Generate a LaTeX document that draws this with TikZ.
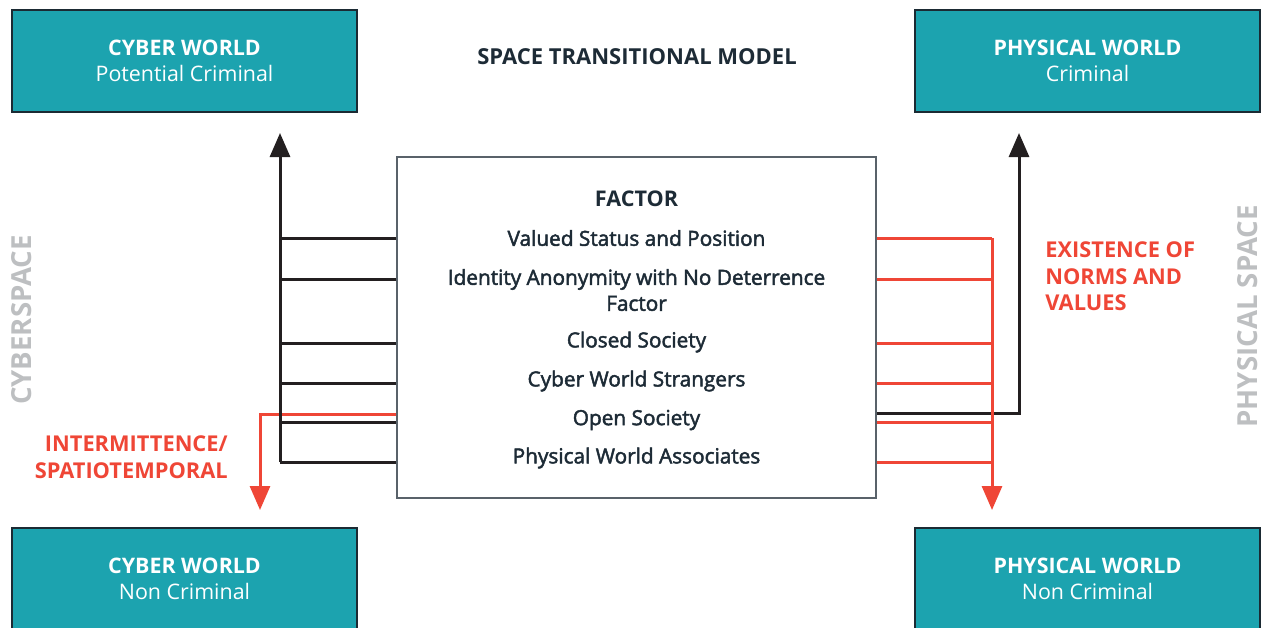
\documentclass[tikz,border=0pt]{standalone}
\usepackage{fontspec}
\setmainfont{Open Sans}
\newfontfamily\midfont[FakeBold=2.2]{Open Sans}
\usetikzlibrary{positioning,arrows.meta}

\definecolor{worldteal}{HTML}{1CA3AF}
\definecolor{worldedge}{HTML}{1B2A33}
\definecolor{inkdark}{HTML}{1D2B36}
\definecolor{boxgray}{HTML}{59626A}
\definecolor{linkblack}{HTML}{231F20}
\definecolor{linkred}{HTML}{EF4636}
\definecolor{spacegray}{HTML}{BDBFC1}

\begin{document}
\begin{tikzpicture}[x=0.5pt, y=-0.5pt,
    world/.style={draw=worldedge, line width=0.8pt, fill=worldteal, text=white,
        minimum width=172.5pt, minimum height=51pt, align=center,
        font=\fontsize{10.7}{13}\selectfont},
    factor/.style={text=inkdark, align=center, inner sep=0pt,
        font=\midfont\fontsize{10.4}{13}\selectfont},
    redlabel/.style={text=linkred, inner sep=0pt, font=\bfseries\fontsize{10.9}{13.3}\selectfont},
    spacelabel/.style={text=spacegray, rotate=90, font=\bfseries\fontsize{13.8}{16}\selectfont},
    link/.style={draw=linkblack, line width=1.5pt},
    redlink/.style={draw=linkred, line width=1.5pt},
    tip/.style={-{Triangle[width=10pt,length=12pt]}}]
    \useasboundingbox (0,0) rectangle (1262,627);

    % World boxes
    \node[world] (cyberpot) at (184.5,61) {\textbf{CYBER WORLD}\\Potential Criminal};
    \node[world] (physcrim) at (1087.5,61) {\textbf{PHYSICAL WORLD}\\Criminal};
    \node[world] (cybernon) at (184.5,579) {\textbf{CYBER WORLD}\\Non Criminal};
    \node[world] (physnon) at (1087.5,579) {\textbf{PHYSICAL WORLD}\\Non Criminal};

    \node[text=inkdark, font=\bfseries\fontsize{11}{13}\selectfont] (title) at (637,57) {SPACE TRANSITIONAL MODEL};

    % Factor box and its rows
    \node[draw=boxgray, line width=0.6pt, fill=white, minimum width=239.5pt, minimum height=170.5pt] (factorbox) at (636.5,327.5) {};
    \node[factor, font=\bfseries\fontsize{10.8}{13}\selectfont] (head) at (636.5,199) {FACTOR};
    \node[factor] (status) at (636.5,238) {Valued Status and Position};
    \node[factor] (anonym) at (636.5,290) {Identity Anonymity with No Deterrence\\Factor};
    \node[factor] (closed) at (636.5,342) {Closed Society};
    \node[factor] (strangers) at (636.5,381) {Cyber World Strangers};
    \node[factor] (open) at (636.5,420) {Open Society};
    \node[factor] (associates) at (636.5,458) {Physical World Associates};

    % Side labels
    \node[spacelabel] (cyberspace) at (22,320) {CYBERSPACE};
    \node[spacelabel] (physspace) at (1248,316.5) {PHYSICAL SPACE};
    \node[redlabel, anchor=west, align=left] (norms) at (1045,276.5) {EXISTENCE OF\\NORMS AND\\VALUES};
    \node[redlabel, anchor=east, align=right] (intermit) at (228,457) {INTERMITTENCE/\\SPATIOTEMPORAL};

    % Free ends of the arrows
    \coordinate (cyberup) at (280,133);
    \coordinate (cyberdown) at (260,510);
    \coordinate (physup) at (1019,133);
    \coordinate (physdown) at (992,510);
    \coordinate (lopen) at (factorbox.west |- 0,414);
    \coordinate (ropen) at (factorbox.east |- 0,413);
    \foreach \n/\yy in {1/238,2/279,3/343,4/383,5/422,6/462} {
        \coordinate (lrow\n) at (factorbox.west |- 0,\yy);
        \coordinate (rrow\n) at (factorbox.east |- 0,\yy);
    }

    % Left side: red drop first, black ladder on top
    \draw[redlink, tip] (lopen) -| (cyberdown);
    \foreach \n in {1,...,6}
        \draw[link] (lrow\n) -- (lrow\n -| cyberup);
    \draw[link, tip] (lrow6 -| cyberup) -- (cyberup);

    % Right side: black rise first, red ladder on top
    \draw[link, tip] (ropen) -| (physup);
    \foreach \n in {1,...,6}
        \draw[redlink] (rrow\n) -- (rrow\n -| physdown);
    \draw[redlink, tip] (rrow1 -| physdown) -- (physdown);
\end{tikzpicture}
\end{document}
